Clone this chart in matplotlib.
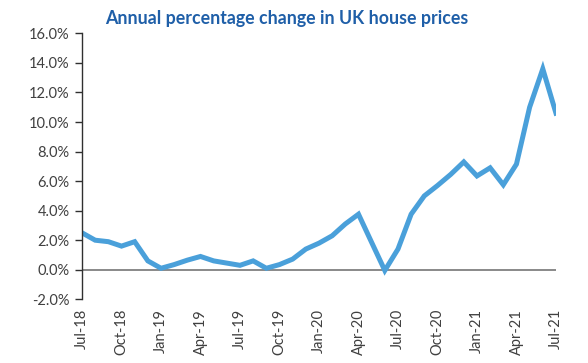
import matplotlib
matplotlib.use("Agg")
import matplotlib.pyplot as plt
from matplotlib.ticker import FuncFormatter

# monthly annual % change, Jul-18 .. Jul-21
months = ["Jul-18", "Aug-18", "Sep-18", "Oct-18", "Nov-18", "Dec-18",
          "Jan-19", "Feb-19", "Mar-19", "Apr-19", "May-19", "Jun-19",
          "Jul-19", "Aug-19", "Sep-19", "Oct-19", "Nov-19", "Dec-19",
          "Jan-20", "Feb-20", "Mar-20", "Apr-20", "May-20", "Jun-20",
          "Jul-20", "Aug-20", "Sep-20", "Oct-20", "Nov-20", "Dec-20",
          "Jan-21", "Feb-21", "Mar-21", "Apr-21", "May-21", "Jun-21",
          "Jul-21"]
change = [2.5, 2.0, 1.9, 1.6, 1.9, 0.6,
          0.1, 0.35, 0.65, 0.9, 0.6, 0.45,
          0.3, 0.6, 0.1, 0.35, 0.72, 1.4,
          1.8, 2.3, 3.1, 3.76, 1.85, -0.05,
          1.4, 3.76, 5.0, 5.7, 6.45, 7.3,
          6.35, 6.9, 5.75, 7.15, 11.0, 13.6,
          10.6]
yticks = [-2, 0, 2, 4, 6, 8, 10, 12, 14, 16]

plt.rcParams['font.family'] = ['Lato', 'DejaVu Sans']

fig = plt.figure(figsize=(5.88, 3.63), dpi=100)
ax = fig.add_axes([0.1395, 0.1755, 0.806, 0.7325])

x = list(range(len(months)))
ax.axhline(0, color="#808080", lw=1.3, zorder=1)
ax.plot(x, change, color="#4aa0da", lw=3.6, solid_joinstyle="miter", zorder=2)

ax.set_xlim(0, len(months) - 1)
ax.set_ylim(-2, 16)
ax.set_yticks(yticks)
ax.yaxis.set_major_formatter(FuncFormatter(lambda v, p: f"{v:.1f}%"))
ax.set_xticks(x[::3])
ax.set_xticklabels(months[::3], rotation=90)

for s in ["top", "right", "bottom"]:
    ax.spines[s].set_visible(False)
ax.spines["left"].set_color("#303030")
ax.spines["left"].set_linewidth(1.0)
ax.tick_params(axis="y", length=5, width=1.0, color="#303030",
               labelsize=10.5, labelcolor="#404040", pad=4)
ax.tick_params(axis="x", length=0, labelsize=10.5, labelcolor="#404040", pad=7)

fig.text(0.488, 0.948, "Annual percentage change in UK house prices",
         ha="center", va="center", fontsize=12.8, fontweight="bold",
         color="#1f5fa8")

fig.savefig("out.png", dpi=100)
